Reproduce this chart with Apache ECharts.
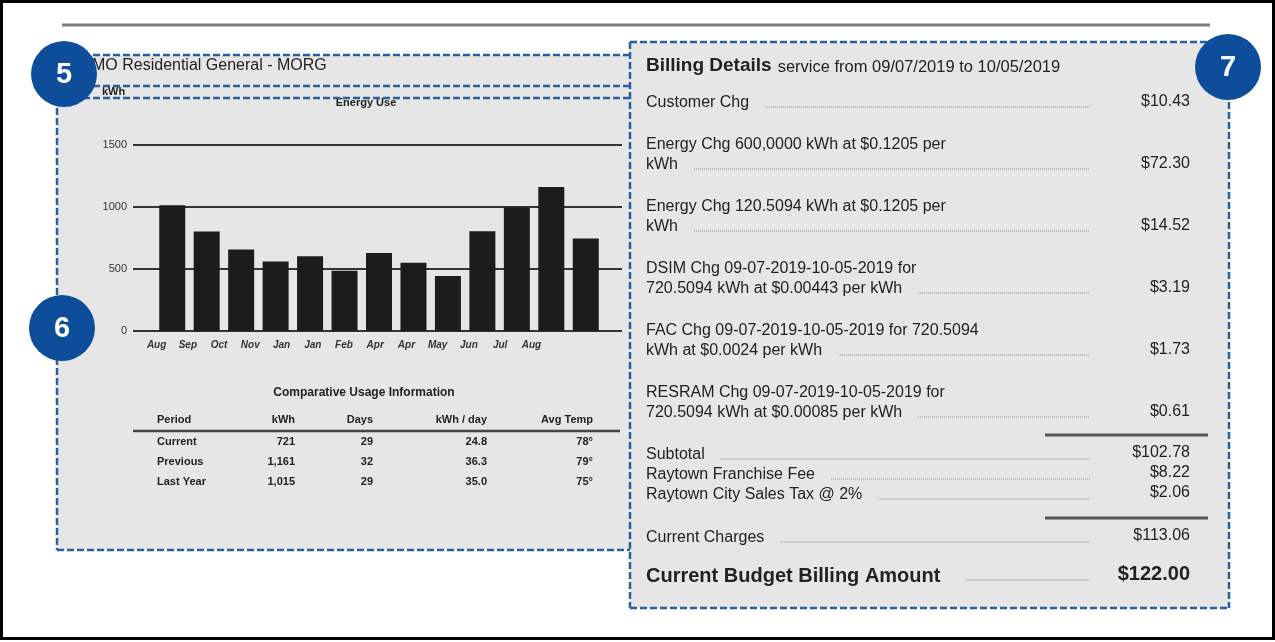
<!DOCTYPE html>
<html>
<head>
<meta charset="utf-8">
<script src="https://cdn.jsdelivr.net/npm/echarts@6/dist/echarts.min.js"></script>
<style>
html,body{margin:0;padding:0;background:#fff}
#main{width:1275px;height:642px}
</style>
</head>
<body>
<div id="main"></div>
<script>
// 用电量柱状图
var months = ['Aug','Sep','Oct','Nov','Jan','Jan','Feb','Apr','Apr','May','Jun','Jul','Aug'];
var usage = [1015, 803, 657, 560, 603, 485, 630, 550, 443, 805, 995, 1161, 745];

// 对比用量表
var tableHead = ['Period','kWh','Days','kWh / day','Avg Temp'];
var periods = ['Current','Previous','Last Year'];
var kwhUsed = ['721','1,161','1,015'];
var days = ['29','32','29'];
var kwhPerDay = ['24.8','36.3','35.0'];
var avgTemp = ['78°','79°','75°'];

// 账单明细
var chargeText = [
	['Customer Chg'],
	['Energy Chg 600,0000 kWh at $0.1205 per', 'kWh'],
	['Energy Chg 120.5094 kWh at $0.1205 per', 'kWh'],
	['DSIM Chg 09-07-2019-10-05-2019 for', '720.5094 kWh at $0.00443 per kWh'],
	['FAC Chg 09-07-2019-10-05-2019 for 720.5094', 'kWh at $0.0024 per kWh'],
	['RESRAM Chg 09-07-2019-10-05-2019 for', '720.5094 kWh at $0.00085 per kWh']
];
var chargeAmount = ['$10.43','$72.30','$14.52','$3.19','$1.73','$0.61'];
var totalText = ['Subtotal','Raytown Franchise Fee','Raytown City Sales Tax @ 2%'];
var totalAmount = ['$102.78','$8.22','$2.06'];

var FONT = '"Liberation Sans", Arial, sans-serif';
var BLUE = '#0d4d9a';
var DASH = '#2a5f9f';
var ctx = document.createElement('canvas').getContext('2d');
function textW(s, f) {
	ctx.font = f;
	return ctx.measureText(s).width;
}

var els = [];
function txt(x, y, s, size, opt) {
	opt = opt || {};
	els.push({
		type: 'text', x: x, y: y, z: opt.z || 10,
		style: {
			text: s, fill: opt.color || '#222',
			font: (opt.bold ? 'bold ' : '') + size + 'px ' + FONT,
			textAlign: opt.align || 'left', textVerticalAlign: 'middle'
		}
	});
}
function line(x1, y1, x2, y2, opt) {
	els.push({
		type: 'line', z: opt.z || 5,
		shape: {x1: x1, y1: y1, x2: x2, y2: y2},
		style: {stroke: opt.color, lineWidth: opt.width, lineDash: opt.dash || null}
	});
}
function dashed(x1, y1, x2, y2) {
	line(x1, y1, x2, y2, {color: DASH, width: 2.5, dash: [7, 3], z: 20});
}
function leader(x1, y) {
	line(x1, y, 1090, y, {color: '#888', width: 1, dash: [1, 1]});
}
function badge(cx, cy, n) {
	els.push({type: 'circle', z: 50, shape: {cx: cx, cy: cy, r: 33}, style: {fill: BLUE}});
	txt(cx, cy + 1, n, 29, {bold: true, color: '#fff', align: 'center', z: 51});
}

// 背景与外框
els.push({type: 'rect', z: -10, shape: {x: 57, y: 55, width: 573, height: 495}, style: {fill: '#e6e6e6'}});
els.push({type: 'rect', z: -10, shape: {x: 630, y: 42, width: 599, height: 566}, style: {fill: '#e6e6e6'}});
els.push({type: 'rect', z: 60, shape: {x: 1.5, y: 1.5, width: 1272, height: 637}, style: {fill: null, stroke: '#000', lineWidth: 3}});
line(62, 25, 1210, 25, {color: '#7d7d7d', width: 3});

// 虚线框
dashed(63, 55, 630, 55);
dashed(63, 86, 630, 86);
dashed(63, 98, 630, 98);
dashed(57, 98, 57, 550);
dashed(57, 550, 630, 550);
dashed(630, 42, 1229, 42);
dashed(630, 42, 630, 608);
dashed(1229, 42, 1229, 608);
dashed(630, 608, 1229, 608);

// 左侧文字
txt(92, 66, 'MO Residential General - MORG', 16);
txt(102, 92, 'kWh', 11, {bold: true});
txt(366, 103, 'Energy Use', 11, {bold: true, align: 'center'});
txt(364, 393, 'Comparative Usage Information', 12, {bold: true, align: 'center'});
var colX = [157, 295, 373, 487, 593];
var colAlign = ['left','right','right','right','right'];
tableHead.forEach(function(h, i) {
	txt(colX[i], 420, h, 11, {bold: true, align: colAlign[i]});
});
line(133, 431, 620, 431, {color: '#444', width: 2.5});
periods.forEach(function(p, r) {
	var y = 442 + r * 20;
	var row = [p, kwhUsed[r], days[r], kwhPerDay[r], avgTemp[r]];
	row.forEach(function(v, i) {
		txt(colX[i], y, v, 11, {bold: true, align: colAlign[i]});
	});
});

// 右侧账单
var f16 = '16px ' + FONT;
txt(646, 66, 'Billing Details', 19, {bold: true});
txt(646 + textW('Billing Details', 'bold 19px ' + FONT) + 6, 67, 'service from 09/07/2019 to 10/05/2019', 16.5);
chargeText.forEach(function(lines, i) {
	var y0 = i == 0 ? 103 : 145 + (i - 1) * 62;
	lines.forEach(function(s, k) {
		txt(646, y0 + k * 20, s, 16);
	});
	var last = lines[lines.length - 1];
	var yl = y0 + (lines.length - 1) * 20;
	leader(646 + textW(last, f16) + 16, yl + 4);
	txt(1190, yl - 1, chargeAmount[i], 16, {align: 'right'});
});
line(1045, 435, 1208, 435, {color: '#555', width: 3});
totalText.forEach(function(s, i) {
	var y = 455 + i * 20;
	txt(646, y, s, 16);
	leader(646 + textW(s, f16) + 16, y + 4);
	txt(1190, y - 2, totalAmount[i], 16, {align: 'right'});
});
line(1045, 518, 1208, 518, {color: '#555', width: 3});
txt(646, 538, 'Current Charges', 16);
leader(646 + textW('Current Charges', f16) + 16, 542);
txt(1190, 536, '$113.06', 16, {align: 'right'});
txt(646, 576, 'Current Budget Billing Amount', 20, {bold: true});
leader(646 + textW('Current Budget Billing Amount', 'bold 20px ' + FONT) + 25, 580);
txt(1190, 574, '$122.00', 20, {bold: true, align: 'right'});

// 编号圆标
badge(64, 74, '5');
badge(62, 328, '6');
badge(1228, 67, '7');

var myChart = echarts.init(document.getElementById('main'));
var yBase = {type: 'value', min: 0, max: 1500, interval: 500};
var option = {
	backgroundColor: '#fff',
	animation: false,
	grid: [
		{left: 133, top: 145, width: 489, height: 186},
		{left: 155, top: 145, width: 448, height: 186},
		{left: 141, top: 145, width: 406, height: 186}
	],
	xAxis: [
		{gridIndex: 0, type: 'category', data: months, show: false},
		{gridIndex: 1, type: 'category', data: months, show: false},
		{gridIndex: 2, type: 'category', data: months,
			axisLine: {show: false}, axisTick: {show: false},
			axisLabel: {margin: 9, fontSize: 10, fontStyle: 'italic', fontWeight: 'bold', color: '#333', fontFamily: FONT}}
	],
	yAxis: [
		echarts.util.extend({gridIndex: 0,
			axisLine: {show: false}, axisTick: {show: false},
			axisLabel: {margin: 6, fontSize: 11, color: '#333', fontFamily: FONT,
				formatter: function(v) { return String(v); }},
			splitLine: {lineStyle: {color: '#333', width: 2}}}, yBase),
		echarts.util.extend({gridIndex: 1, show: false, splitLine: {show: false}}, yBase),
		echarts.util.extend({gridIndex: 2, show: false, splitLine: {show: false}}, yBase)
	],
	series: [
		{
			name: 'Energy Use',
			type: 'bar',
			xAxisIndex: 1,
			yAxisIndex: 1,
			barWidth: 26,
			itemStyle: {color: '#1c1c1c'},
			data: usage
		}
	],
	graphic: {elements: els}
};
myChart.setOption(option);
</script>
</body>
</html>
